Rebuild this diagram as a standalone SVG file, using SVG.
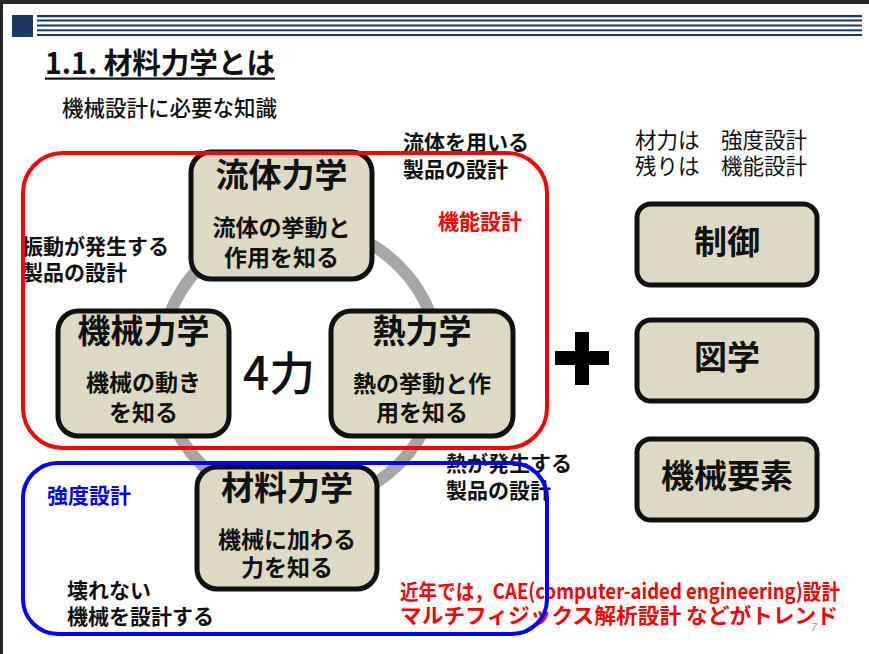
<svg xmlns="http://www.w3.org/2000/svg" width="869" height="654" viewBox="0 0 869 654">
<style>
text{font-family:"Noto Sans CJK JP","Noto Sans",sans-serif;fill:#111}
.b{font-weight:700}
.node rect{fill:#ddd9c4;stroke:#111;stroke-width:5}
.t{font-size:33px;font-weight:700;text-anchor:middle}
.s{font-size:23px;font-weight:700;text-anchor:middle}
.o{font-size:21px;font-weight:700}
.hl{fill:#1b3a63}
</style>
<rect x="0" y="0" width="869" height="654" fill="#fff"/>
<rect x="0" y="0" width="869" height="4" fill="#262626"/>
<rect x="0" y="0" width="3" height="654" fill="#262626"/>
<g id="header">
<rect class="hl" x="12" y="15" width="21" height="22"/>
<rect class="hl" x="37" y="15" width="825" height="2.2"/>
<rect class="hl" x="37" y="19.5" width="825" height="2"/>
<rect class="hl" x="37" y="24.5" width="825" height="2"/>
<rect class="hl" x="37" y="29.3" width="825" height="2"/>
<rect class="hl" x="37" y="34" width="825" height="2"/>
</g>
<text x="45" y="74" font-size="29" class="b" textLength="230" lengthAdjust="spacingAndGlyphs">1.1. 材料力学とは</text>
<rect x="45" y="77.5" width="230" height="2.2" fill="#111"/>
<text x="62" y="116" font-size="21.5" font-weight="500">機械設計に必要な知識</text>

<g id="connectors">
<circle cx="300" cy="365" r="140" fill="none" stroke="#a6a6a6" stroke-width="12"/>
</g>

<g id="n-ryutai" class="node"><rect x="191" y="152" width="181" height="127" rx="20"/>
<text class="t" x="281.5" y="187">流体力学</text><text class="s" x="281.5" y="236">流体の挙動と</text><text class="s" x="281.5" y="266">作用を知る</text></g>
<g id="n-kikai" class="node"><rect x="58" y="311" width="171" height="125" rx="20"/>
<text class="t" x="143.5" y="343">機械力学</text><text class="s" x="143.5" y="391">機械の動き</text><text class="s" x="143.5" y="421">を知る</text></g>
<g id="n-netsu" class="node"><rect x="331" y="311" width="182" height="125" rx="20"/>
<text class="t" x="422" y="343">熱力学</text><text class="s" x="422" y="392">熱の挙動と作</text><text class="s" x="422" y="421">用を知る</text></g>
<g id="n-zairyo" class="node"><rect x="197" y="467" width="180" height="122" rx="20"/>
<text class="t" x="287" y="500">材料力学</text><text class="s" x="287" y="548">機械に加わる</text><text class="s" x="287" y="576">力を知る</text></g>
<g id="n-seigyo" class="node"><rect x="637" y="204" width="180" height="81" rx="14"/><text class="t" x="727" y="254">制御</text></g>
<g id="n-zugaku" class="node"><rect x="637" y="320" width="180" height="81" rx="14"/><text class="t" x="727" y="369">図学</text></g>
<g id="n-yoso" class="node"><rect x="637" y="439" width="180" height="81" rx="14"/><text class="t" x="727" y="488">機械要素</text></g>

<text x="279" y="390" font-size="46" font-weight="500" text-anchor="middle" textLength="72" lengthAdjust="spacingAndGlyphs">4力</text>
<g id="plus" fill="#000"><rect x="555" y="351" width="54" height="14"/><rect x="575" y="332" width="14" height="53"/></g>

<text class="o" x="403" y="150">流体を用いる</text>
<text class="o" x="403" y="177">製品の設計</text>
<text class="o" x="438" y="229" style="fill:#ff0000">機能設計</text>
<text class="o" x="22" y="254">振動が発生する</text>
<text class="o" x="22" y="280">製品の設計</text>
<text class="o" x="446" y="471">熱が発生する</text>
<text class="o" x="446" y="498">製品の設計</text>
<text class="o" x="47" y="503" style="fill:#0000ff">強度設計</text>
<text class="o" x="67" y="598">壊れない</text>
<text class="o" x="67" y="624">機械を設計する</text>
<text class="o" x="400" y="599" style="fill:#ff0000" textLength="440" lengthAdjust="spacingAndGlyphs">近年では，CAE(computer-aided engineering)設計</text>
<text class="o" x="400" y="623" style="fill:#ff0000" textLength="438" lengthAdjust="spacingAndGlyphs">マルチフィジックス解析設計 などがトレンド</text>
<text x="635" y="148" font-size="21.5">材力は　強度設計</text>
<text x="635" y="174" font-size="21.5">残りは　機能設計</text>
<text x="810" y="631" font-size="11" font-style="italic" style="fill:#888">7</text>

<g id="frames" fill="none" stroke-width="4">
<rect x="23" y="153" width="524" height="295" rx="40" stroke="#ff0000"/>
<rect x="23" y="463" width="524" height="171" rx="35" stroke="#0000ff"/>
</g>
</svg>
